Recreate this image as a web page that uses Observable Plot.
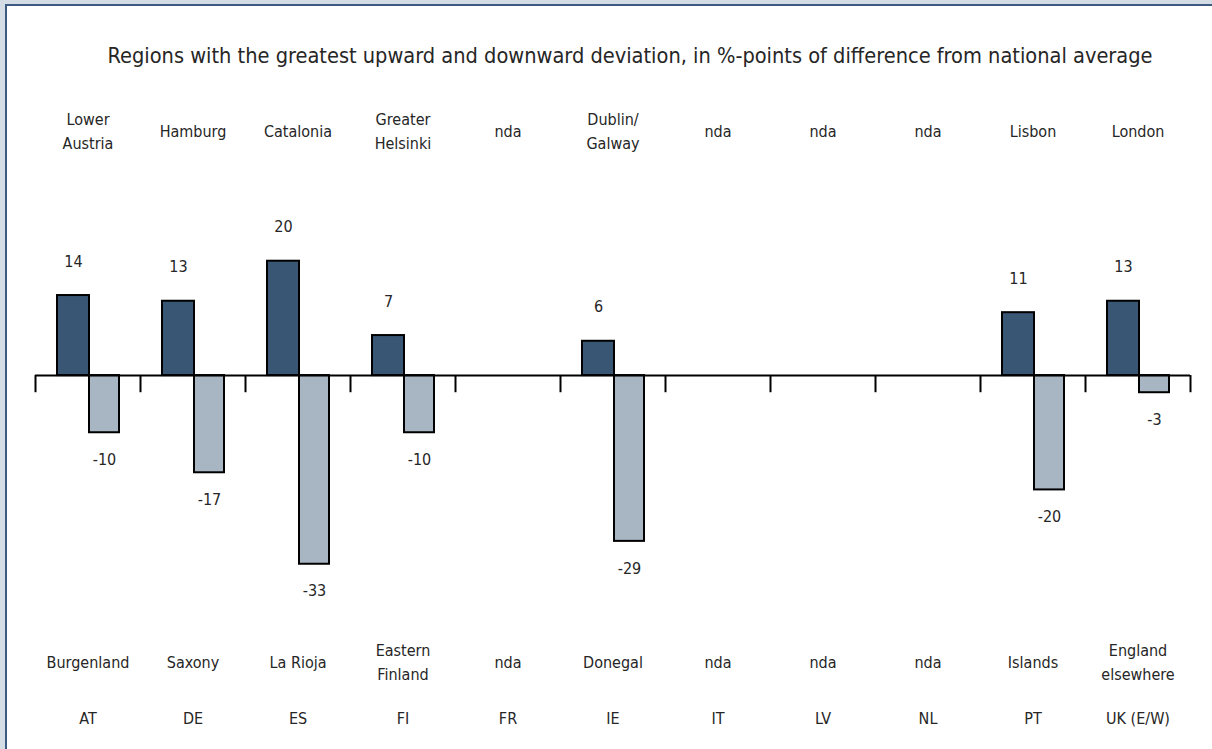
<!DOCTYPE html>
<html>
<head>
<meta charset="utf-8">
<script src="https://cdn.jsdelivr.net/npm/d3@7"></script>
<script src="https://cdn.jsdelivr.net/npm/@observablehq/plot@0.6"></script>
<style>
  html, body { margin: 0; padding: 0; background: #d4dce5; overflow: hidden; }
  #wrap { position: relative; width: 1212px; height: 749px; }
  #frame { position: absolute; left: 5px; top: 4px; width: 1240px; height: 780px;
           border-left: 2px solid #3d5a80; border-top: 2px solid #3d5a80; background: #fff; }
  #chart { position: absolute; left: 0; top: 0; }
  #chart svg { background: transparent; }
</style>
</head>
<body>
<div id="wrap"><div id="frame"></div><div id="chart"></div></div>
<script>
const countries = ["AT", "DE", "ES", "FI", "FR", "IE", "IT", "LV", "NL", "PT", "UK (E/W)"];
const upValues = [14, 13, 20, 7, null, 6, null, null, null, 11, 13];
const downValues = [-10, -17, -33, -10, null, -29, null, null, null, -20, -3];
const topRegions = ["Lower\nAustria", "Hamburg", "Catalonia", "Greater\nHelsinki", "nda", "Dublin/\nGalway", "nda", "nda", "nda", "Lisbon", "London"];
const bottomRegions = ["Burgenland", "Saxony", "La Rioja", "Eastern\nFinland", "nda", "Donegal", "nda", "nda", "nda", "Islands", "England\nelsewhere"];
const title = "Regions with the greatest upward and downward deviation, in %-points of difference from national average";

const rows = countries.map((c, i) => ({
  country: c, up: upValues[i], down: downValues[i], top: topRegions[i], bottom: bottomRegions[i]
}));
const upRows = rows.filter(d => d.up != null);
const downRows = rows.filter(d => d.down != null);

const W = 1212, H = 749, ML = 35, MR = 22;
const bw = (W - ML - MR) / countries.length;
const font = "'Liberation Sans Narrow', 'DejaVu Sans Condensed', 'Roboto', sans-serif";
const ink = "#262626";
const fs = 16;

const chart = Plot.plot({
  width: W,
  height: H,
  marginLeft: ML,
  marginRight: MR,
  marginTop: 0,
  marginBottom: 0,
  style: { background: "transparent", fontFamily: font, fontSize: fs + "px", color: ink },
  x: { type: "band", domain: countries, padding: 0, axis: null },
  y: { domain: [-65.4, 65.6], axis: null },
  marks: [
    Plot.barY(upRows, { x: "country", y: "up", insetLeft: 22, insetRight: 51, fill: "#395674", stroke: "#000", strokeWidth: 2 }),
    Plot.barY(downRows, { x: "country", y: "down", insetLeft: 54, insetRight: 21, fill: "#a8b5c3", stroke: "#000", strokeWidth: 2 }),
    Plot.ruleY([0], { stroke: "#000", strokeWidth: 2 }),
    Plot.ruleX(countries, { x: d => d, y1: 0, y2: -3, dx: -bw / 2, stroke: "#000", strokeWidth: 2 }),
    Plot.ruleX(countries.slice(-1), { x: d => d, y1: 0, y2: -3, dx: bw / 2, stroke: "#000", strokeWidth: 2 }),
    Plot.text(upRows, { x: "country", y: "up", text: d => String(d.up), dx: -14.5, dy: -34, fontSize: fs, fill: ink }),
    Plot.text(downRows, { x: "country", y: "down", text: d => String(d.down), dx: 16.5, dy: 27, fontSize: fs, fill: ink }),
    Plot.text([title], { frameAnchor: "top", lineAnchor: "middle", text: d => d, dx: 17, dy: 56, fontSize: 21.6, fill: ink }),
    Plot.text(rows, { x: "country", frameAnchor: "top", lineAnchor: "middle", text: "top", dy: 129, fontSize: fs, lineHeight: 1.5, fill: ink }),
    Plot.text(rows, { x: "country", frameAnchor: "top", lineAnchor: "middle", text: "bottom", dy: 660, fontSize: fs, lineHeight: 1.5, fill: ink }),
    Plot.text(rows, { x: "country", frameAnchor: "top", lineAnchor: "middle", text: "country", dy: 718, fontSize: fs, fill: ink })
  ]
});
document.getElementById("chart").appendChild(chart);
</script>
</body>
</html>
